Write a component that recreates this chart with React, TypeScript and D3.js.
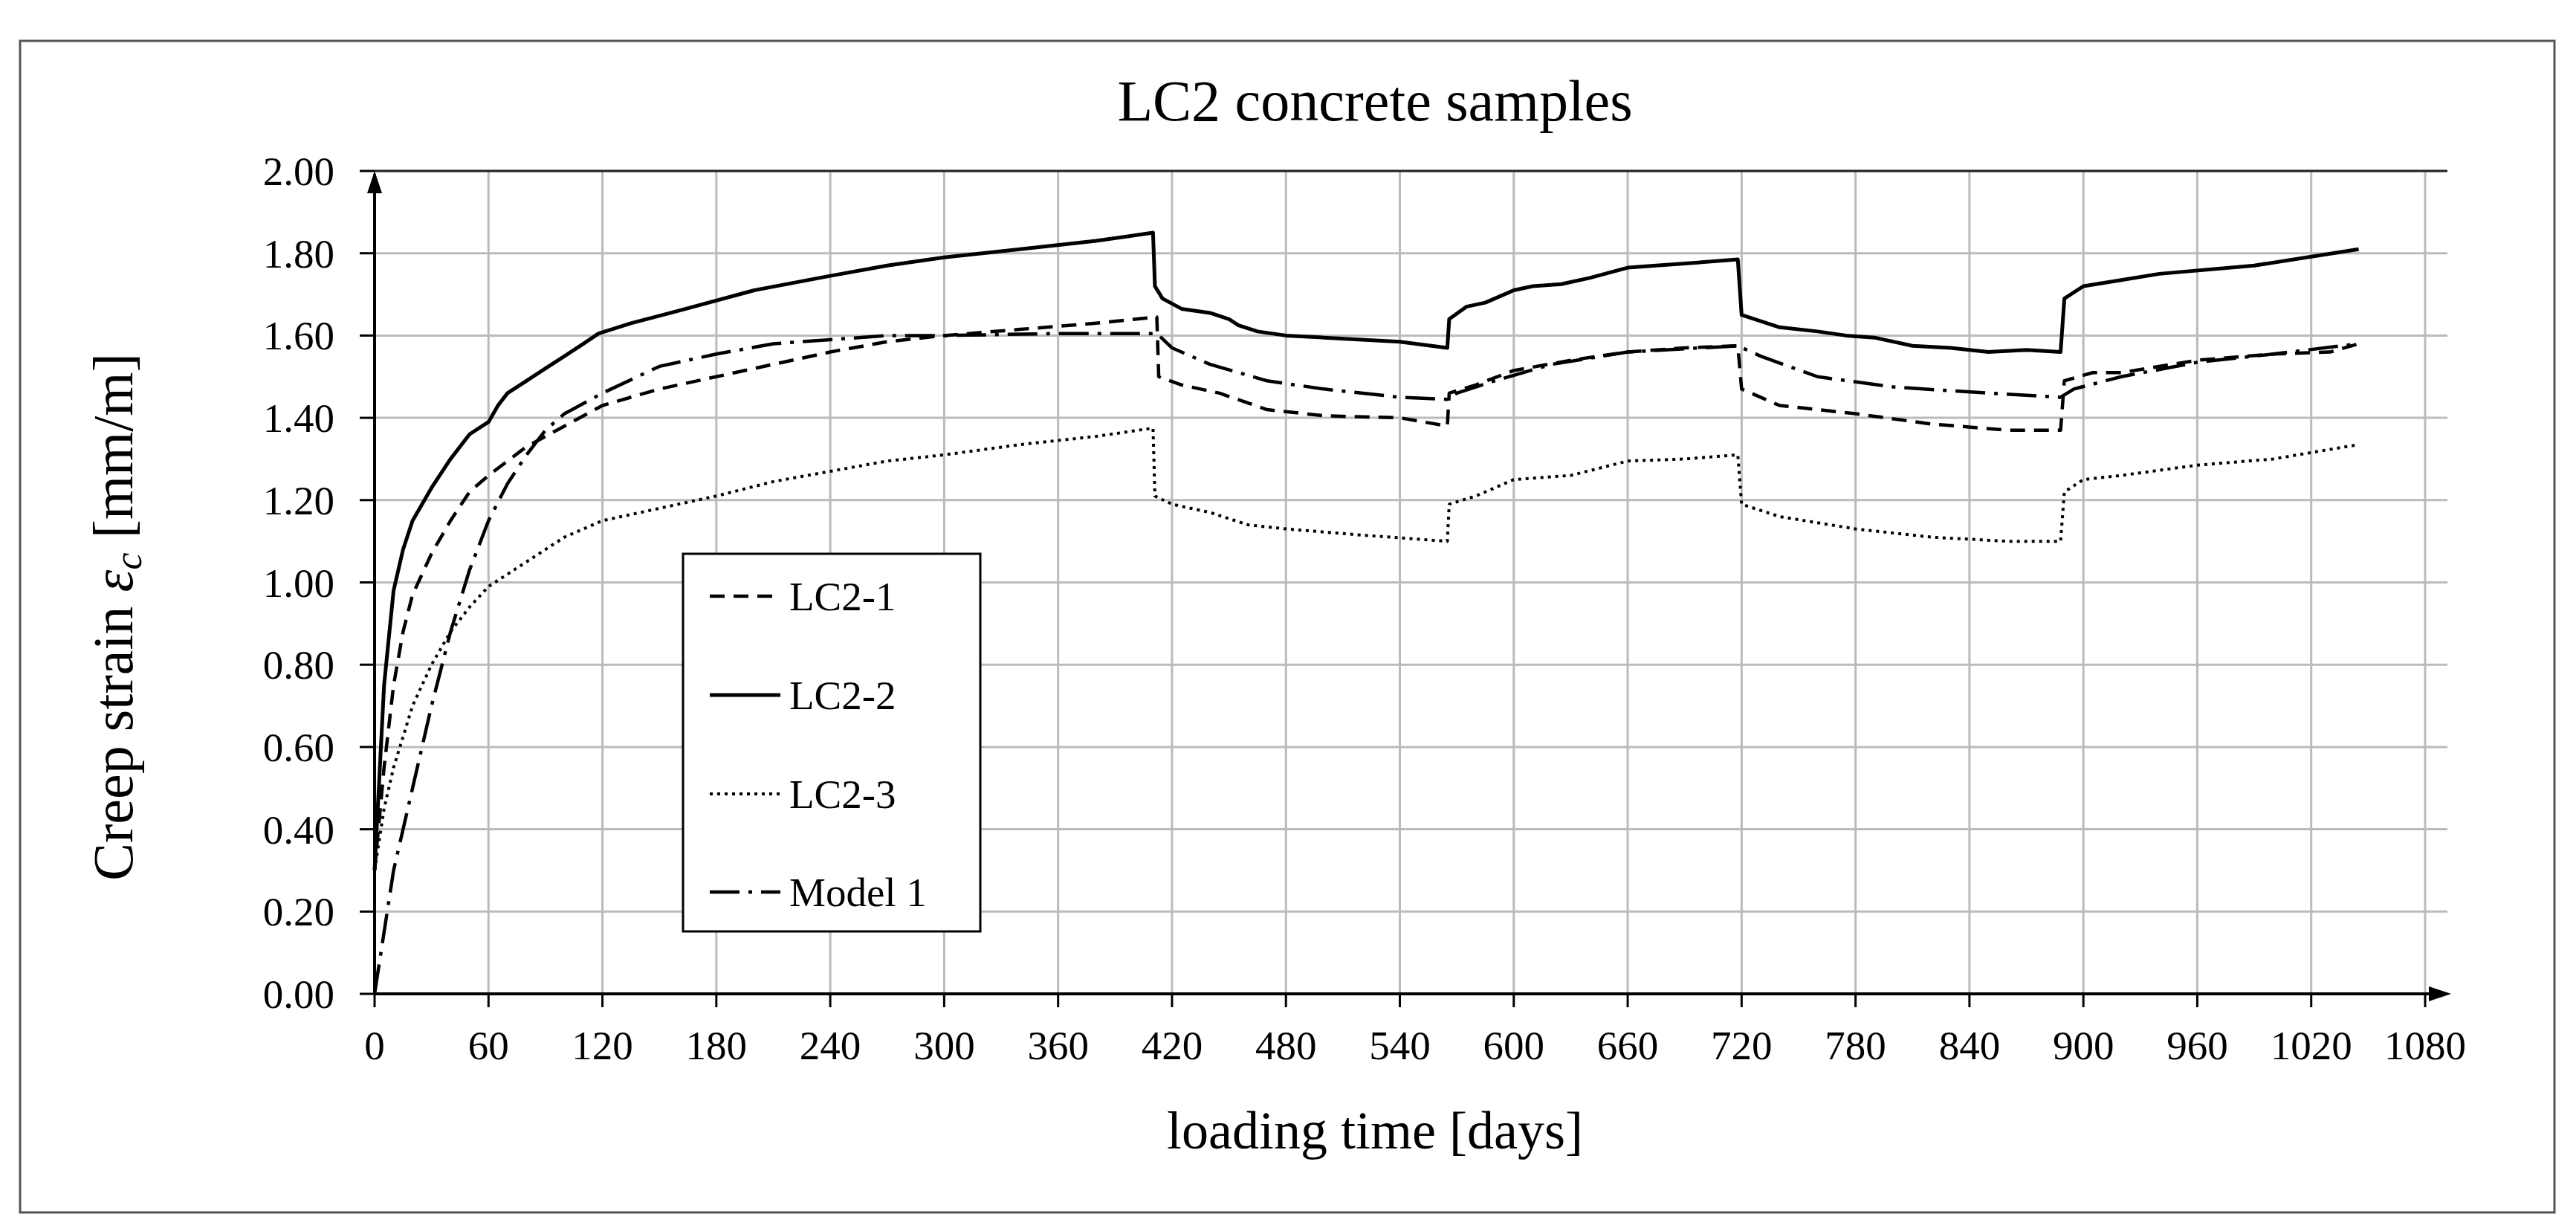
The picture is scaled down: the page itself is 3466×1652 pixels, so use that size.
import React from "react";
import * as d3 from "d3";

const xTicks = d3.range(0, 1081, 60);
const yTicks = d3.range(0, 2.001, 0.2);

const lc21: [number, number][] = [[0,0.3],[5,0.55],[10,0.75],[15,0.88],[20,0.97],[30,1.07],[40,1.15],[50,1.22],[60,1.26],[80,1.33],[100,1.38],[120,1.43],[150,1.47],[180,1.5],[210,1.53],[240,1.56],[270,1.585],[300,1.6],[340,1.615],[380,1.63],[412,1.645],[413,1.5],[425,1.48],[445,1.46],[470,1.42],[500,1.405],[540,1.4],[565,1.38],[566,1.46],[580,1.48],[600,1.515],[630,1.54],[660,1.56],[690,1.57],[718,1.575],[720,1.47],[740,1.43],[780,1.41],[820,1.385],[860,1.37],[888,1.37],[890,1.49],[905,1.51],[920,1.51],[960,1.54],[1000,1.555],[1030,1.56],[1045,1.58]];
const lc22: [number, number][] = [[0,0.3],[5,0.75],[10,0.98],[15,1.08],[20,1.15],[30,1.23],[40,1.3],[50,1.36],[60,1.39],[65,1.43],[70,1.46],[80,1.49],[90,1.52],[100,1.55],[110,1.58],[118,1.605],[135,1.63],[160,1.66],[200,1.71],[240,1.745],[270,1.77],[300,1.79],[340,1.81],[380,1.83],[410,1.85],[411,1.72],[415,1.69],[425,1.665],[440,1.655],[450,1.64],[455,1.625],[465,1.61],[480,1.6],[500,1.595],[540,1.585],[565,1.57],[566,1.64],[575,1.67],[585,1.68],[600,1.71],[610,1.72],[625,1.725],[640,1.74],[660,1.765],[690,1.775],[718,1.785],[720,1.65],[740,1.62],[760,1.61],[775,1.6],[790,1.595],[810,1.575],[830,1.57],[850,1.56],[870,1.565],[888,1.56],[890,1.69],[900,1.72],[920,1.735],[940,1.75],[990,1.77],[1045,1.81]];
const lc23: [number, number][] = [[0,0.3],[5,0.45],[10,0.55],[20,0.7],[30,0.8],[40,0.88],[50,0.94],[60,0.99],[80,1.05],[100,1.11],[120,1.15],[150,1.18],[180,1.21],[210,1.245],[240,1.27],[270,1.295],[300,1.31],[340,1.335],[380,1.355],[410,1.375],[411,1.21],[420,1.19],[440,1.17],[460,1.14],[480,1.13],[520,1.115],[565,1.1],[566,1.19],[580,1.21],[600,1.25],[630,1.26],[660,1.295],[690,1.3],[718,1.31],[720,1.19],[740,1.16],[780,1.13],[820,1.11],[860,1.1],[888,1.1],[890,1.22],[900,1.25],[920,1.26],[960,1.285],[1000,1.3],[1045,1.335]];
const model1: [number, number][] = [[0,0],[5,0.15],[10,0.3],[20,0.5],[30,0.7],[40,0.88],[50,1.03],[60,1.15],[70,1.24],[80,1.31],[90,1.37],[100,1.41],[120,1.46],[150,1.525],[180,1.555],[210,1.58],[240,1.59],[270,1.6],[300,1.6],[360,1.605],[412,1.605],[420,1.57],[440,1.53],[470,1.49],[500,1.47],[540,1.45],[565,1.445],[570,1.46],[590,1.49],[620,1.53],[660,1.56],[718,1.575],[730,1.55],[760,1.5],[800,1.475],[850,1.46],[888,1.45],[895,1.47],[920,1.5],[960,1.535],[1000,1.555],[1045,1.58]];

const seriesNames = ["LC2-1", "LC2-2", "LC2-3", "Model 1"];
const seriesData = [lc21, lc22, lc23, model1];
const dashes = ["20,12", "none", "4,6", "40,12,5,12"];
const widths = [4.5, 5, 4, 4.5];

export default function App() {
  const x = d3.scaleLinear().domain([0, 1080]).range([504, 3263]);
  const y = d3.scaleLinear().domain([0, 2]).range([1337, 230]);
  const line = d3.line<[number, number]>().x(d => x(d[0])).y(d => y(d[1]));
  const font = "'Liberation Serif', 'Times New Roman', serif";
  const legY = [802, 935, 1068, 1200];
  return (
    <svg width={3466} height={1652} style={{ position: "absolute", left: 0, top: 0, background: "#fff" }} fontFamily={font}>
      <rect x={27} y={55} width={3410} height={1576} fill="#fff" stroke="#555" strokeWidth={3} />
      <text x={1850} y={162} textAnchor="middle" fontSize={78}>LC2 concrete samples</text>
      {xTicks.filter(t => t > 0).map(t => (
        <line key={"gx" + t} x1={x(t)} x2={x(t)} y1={y(2)} y2={y(0)} stroke="#bbb" strokeWidth={3} />
      ))}
      {yTicks.filter(t => t > 0.01).map(t => (
        <line key={"gy" + t} x1={x(0)} x2={3293} y1={y(t)} y2={y(t)} stroke="#bbb" strokeWidth={3} />
      ))}
      <line x1={x(0)} x2={3293} y1={y(2)} y2={y(2)} stroke="#222" strokeWidth={3} />
      {yTicks.map(t => (
        <g key={"yt" + t}>
          <line x1={x(0) - 20} x2={x(0)} y1={y(t)} y2={y(t)} stroke="#000" strokeWidth={3} />
          <text x={450} y={y(t) + 19} textAnchor="end" fontSize={55}>{t.toFixed(2)}</text>
        </g>
      ))}
      {xTicks.map(t => (
        <g key={"xt" + t}>
          <line x1={x(t)} x2={x(t)} y1={y(0)} y2={y(0) + 18} stroke="#000" strokeWidth={3} />
          <text x={x(t)} y={1425} textAnchor="middle" fontSize={55}>{t}</text>
        </g>
      ))}
      <line x1={x(0)} x2={x(0)} y1={y(0)} y2={y(2) + 4} stroke="#000" strokeWidth={4} />
      <path d={`M${x(0) - 10},${y(2) + 30} L${x(0)},${y(2)} L${x(0) + 10},${y(2) + 30} Z`} fill="#000" />
      <line x1={x(0)} x2={3290} y1={y(0)} y2={y(0)} stroke="#000" strokeWidth={4} />
      <path d={`M3268,${y(0) - 10} L3298,${y(0)} L3268,${y(0) + 10} Z`} fill="#000" />
      {seriesData.map((s, i) => (
        <path key={"s" + i} d={line(s) || ""} fill="none" stroke="#000" strokeWidth={widths[i]} strokeDasharray={dashes[i]} strokeLinejoin="round" />
      ))}
      <rect x={919} y={745} width={400} height={508} fill="#fff" stroke="#000" strokeWidth={3} />
      {seriesNames.map((n, i) => (
        <g key={"l" + i}>
          <line x1={955} x2={1050} y1={legY[i]} y2={legY[i]} stroke="#000" strokeWidth={widths[i]} strokeDasharray={dashes[i]} />
          <text x={1062} y={legY[i] + 19} fontSize={55}>{n}</text>
        </g>
      ))}
      <text x={1850} y={1545} textAnchor="middle" fontSize={72}>loading time [days]</text>
      <text transform="translate(178,830) rotate(-90)" textAnchor="middle" fontSize={76}>
        Creep strain <tspan fontStyle="italic">ε</tspan><tspan fontStyle="italic" fontSize={52} dy={12}>c</tspan><tspan dy={-12}> [mm/m]</tspan>
      </text>
    </svg>
  );
}
